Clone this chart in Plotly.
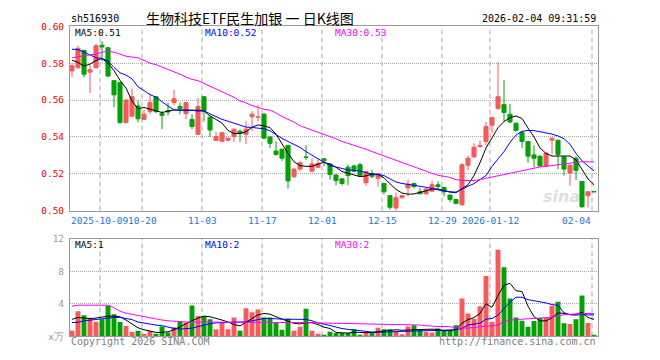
import plotly.graph_objects as go
import pandas as pd

# ---------------- data ----------------
holidays = ['2025-10-01', '2025-10-02', '2025-10-03', '2025-10-06', '2025-10-07',
            '2025-10-08', '2026-01-01', '2026-01-02']
dates = [d.strftime('%Y-%m-%d') for d in pd.bdate_range('2025-09-24', '2026-02-04')
         if d.strftime('%Y-%m-%d') not in holidays]

opens = [0.5758, 0.5775, 0.5870, 0.5751, 0.5775, 0.5898, 0.5884, 0.5705, 0.5695, 0.5477,
         0.5512, 0.5568, 0.5495, 0.5537, 0.5618, 0.5526, 0.5542, 0.5586, 0.5565, 0.5526,
         0.5495, 0.5414, 0.5618, 0.5507, 0.5380, 0.5376, 0.5382, 0.5402, 0.5431, 0.5414,
         0.5509, 0.5506, 0.5523, 0.5400, 0.5323, 0.5333, 0.5354, 0.5183, 0.5225, 0.5291,
         0.5214, 0.5235, 0.5281, 0.5253, 0.5193, 0.5172, 0.5235, 0.5242, 0.5249, 0.5151,
         0.5200, 0.5176, 0.5147, 0.5081, 0.5014, 0.5070, 0.5123, 0.5147, 0.5102, 0.5091,
         0.5105, 0.5140, 0.5126, 0.5084, 0.5060, 0.5032, 0.5246, 0.5291, 0.5347, 0.5375,
         0.5463, 0.5554, 0.5575, 0.5523, 0.5474, 0.5425, 0.5375, 0.5302, 0.5295, 0.5242,
         0.5382, 0.5382, 0.5291, 0.5204, 0.5284, 0.5158, 0.5081, 0.5103]
highs = [0.5800, 0.5895, 0.5872, 0.5793, 0.5905, 0.5920, 0.5888, 0.5709, 0.5700, 0.5607,
         0.5663, 0.5596, 0.5547, 0.5632, 0.5621, 0.5540, 0.5586, 0.5656, 0.5586, 0.5590,
         0.5523, 0.5611, 0.5620, 0.5510, 0.5428, 0.5423, 0.5395, 0.5444, 0.5440, 0.5484,
         0.5540, 0.5572, 0.5530, 0.5400, 0.5376, 0.5335, 0.5356, 0.5230, 0.5267, 0.5355,
         0.5284, 0.5277, 0.5281, 0.5256, 0.5200, 0.5175, 0.5249, 0.5249, 0.5260, 0.5214,
         0.5221, 0.5203, 0.5150, 0.5084, 0.5098, 0.5084, 0.5168, 0.5151, 0.5123, 0.5123,
         0.5161, 0.5158, 0.5128, 0.5086, 0.5063, 0.5256, 0.5298, 0.5365, 0.5382, 0.5481,
         0.5510, 0.5807, 0.5709, 0.5579, 0.5477, 0.5428, 0.5378, 0.5354, 0.5300, 0.5316,
         0.5396, 0.5386, 0.5295, 0.5249, 0.5295, 0.5160, 0.5105, 0.5103]
lows = [0.5726, 0.5770, 0.5723, 0.5639, 0.5772, 0.5810, 0.5726, 0.5561, 0.5474, 0.5474,
        0.5509, 0.5480, 0.5493, 0.5523, 0.5530, 0.5442, 0.5516, 0.5572, 0.5523, 0.5495,
        0.5442, 0.5411, 0.5484, 0.5400, 0.5378, 0.5372, 0.5375, 0.5372, 0.5372, 0.5361,
        0.5432, 0.5484, 0.5390, 0.5340, 0.5298, 0.5270, 0.5119, 0.5176, 0.5215, 0.5274,
        0.5207, 0.5233, 0.5242, 0.5168, 0.5137, 0.5137, 0.5137, 0.5207, 0.5186, 0.5134,
        0.5175, 0.5130, 0.5088, 0.5004, 0.4995, 0.5065, 0.5077, 0.5120, 0.5088, 0.5088,
        0.5102, 0.5112, 0.5077, 0.5046, 0.5035, 0.5025, 0.5218, 0.5288, 0.5344, 0.5354,
        0.5420, 0.5547, 0.5481, 0.5475, 0.5430, 0.5340, 0.5260, 0.5235, 0.5235, 0.5235,
        0.5305, 0.5225, 0.5190, 0.5134, 0.5165, 0.5014, 0.5016, 0.5101]
closes = [0.5786, 0.5881, 0.5740, 0.5765, 0.5895, 0.5888, 0.5730, 0.5628, 0.5477, 0.5600,
          0.5618, 0.5498, 0.5523, 0.5586, 0.5537, 0.5516, 0.5535, 0.5607, 0.5554, 0.5586,
          0.5456, 0.5565, 0.5542, 0.5437, 0.5402, 0.5423, 0.5393, 0.5442, 0.5420, 0.5442,
          0.5523, 0.5509, 0.5393, 0.5365, 0.5305, 0.5284, 0.5161, 0.5225, 0.5260, 0.5288,
          0.5253, 0.5256, 0.5270, 0.5196, 0.5162, 0.5147, 0.5190, 0.5214, 0.5190, 0.5211,
          0.5186, 0.5200, 0.5102, 0.5018, 0.5070, 0.5081, 0.5144, 0.5130, 0.5091, 0.5116,
          0.5140, 0.5130, 0.5102, 0.5060, 0.5039, 0.5249, 0.5284, 0.5344, 0.5354, 0.5456,
          0.5505, 0.5618, 0.5533, 0.5481, 0.5435, 0.5375, 0.5295, 0.5284, 0.5242, 0.5312,
          0.5393, 0.5305, 0.5225, 0.5246, 0.5218, 0.5021, 0.5102, 0.5101]

ma5 = [0.5816, 0.5804, 0.5785, 0.5795, 0.5815, 0.5825, 0.5800, 0.5760, 0.5707, 0.5665,
       0.5595, 0.5552, 0.5560, 0.5552, 0.5540, 0.5532, 0.5540, 0.5546, 0.5545, 0.5543,
       0.5544, 0.5545, 0.5540, 0.5514, 0.5496, 0.5475, 0.5435, 0.5418, 0.5418, 0.5428,
       0.5452, 0.5465, 0.5460, 0.5450, 0.5415, 0.5360, 0.5310, 0.5265, 0.5244, 0.5240,
       0.5240, 0.5252, 0.5262, 0.5252, 0.5235, 0.5212, 0.5203, 0.5190, 0.5184, 0.5188,
       0.5198, 0.5196, 0.5178, 0.5145, 0.5115, 0.5095, 0.5089, 0.5090, 0.5097, 0.5107,
       0.5117, 0.5117, 0.5108, 0.5100, 0.5097, 0.5120, 0.5140, 0.5190, 0.5260, 0.5340,
       0.5395, 0.5450, 0.5483, 0.5505, 0.5513, 0.5500, 0.5448, 0.5400, 0.5340, 0.5310,
       0.5296, 0.5296, 0.5296, 0.5296, 0.5275, 0.5220, 0.5172, 0.5140]
ma10 = [0.5876, 0.5874, 0.5860, 0.5845, 0.5830, 0.5826, 0.5812, 0.5777, 0.5748, 0.5735,
        0.5715, 0.5672, 0.5650, 0.5630, 0.5615, 0.5590, 0.5567, 0.5546, 0.5546, 0.5546,
        0.5545, 0.5540, 0.5542, 0.5525, 0.5510, 0.5495, 0.5485, 0.5475, 0.5465, 0.5453,
        0.5451, 0.5447, 0.5444, 0.5433, 0.5410, 0.5392, 0.5375, 0.5360, 0.5343, 0.5320,
        0.5300, 0.5280, 0.5262, 0.5245, 0.5237, 0.5228, 0.5220, 0.5218, 0.5215, 0.5206,
        0.5198, 0.5196, 0.5190, 0.5172, 0.5155, 0.5147, 0.5140, 0.5137, 0.5132, 0.5128,
        0.5120, 0.5112, 0.5106, 0.5102, 0.5100, 0.5117, 0.5132, 0.5146, 0.5170, 0.5190,
        0.5240, 0.5280, 0.5320, 0.5370, 0.5410, 0.5430, 0.5435, 0.5434, 0.5428, 0.5422,
        0.5415, 0.5405, 0.5390, 0.5360, 0.5310, 0.5270, 0.5240, 0.5215]
ma30 = [0.5830, 0.5835, 0.5840, 0.5845, 0.5850, 0.5860, 0.5865, 0.5860, 0.5850, 0.5838,
        0.5833, 0.5830, 0.5815, 0.5800, 0.5792, 0.5780, 0.5765, 0.5755, 0.5740, 0.5725,
        0.5712, 0.5705, 0.5690, 0.5675, 0.5660, 0.5645, 0.5630, 0.5615, 0.5595, 0.5585,
        0.5570, 0.5560, 0.5550, 0.5545, 0.5530, 0.5510, 0.5495, 0.5480, 0.5460, 0.5448,
        0.5438, 0.5428, 0.5415, 0.5402, 0.5390, 0.5375, 0.5365, 0.5355, 0.5345, 0.5333,
        0.5320, 0.5308, 0.5295, 0.5282, 0.5270, 0.5260, 0.5248, 0.5238, 0.5225, 0.5212,
        0.5202, 0.5192, 0.5185, 0.5180, 0.5168, 0.5163, 0.5163, 0.5163, 0.5168, 0.5175,
        0.5182, 0.5190, 0.5198, 0.5205, 0.5210, 0.5215, 0.5222, 0.5230, 0.5237, 0.5240,
        0.5245, 0.5250, 0.5255, 0.5260, 0.5262, 0.5265, 0.5265, 0.5264]

volumes = [0.68, 3.08, 2.60, 2.28, 1.80, 2.08, 3.80, 2.72, 1.76, 1.28,
           0.56, 0.68, 0.32, 0.64, 0.32, 1.20, 0.48, 1.12, 1.88, 1.68,
           3.80, 2.48, 2.48, 2.08, 0.88, 1.76, 0.88, 2.32, 0.68, 3.44,
           2.96, 3.28, 2.32, 2.32, 1.68, 0.80, 2.16, 0.68, 1.16, 3.40,
           0.68, 0.32, 0.16, 0.56, 0.40, 0.40, 0.40, 0.88, 0.16, 0.40,
           0.56, 1.04, 0.88, 0.88, 0.64, 0.24, 1.20, 1.36, 0.80, 0.56,
           0.48, 0.96, 0.72, 0.72, 1.36, 4.64, 2.80, 2.16, 3.68, 7.40,
           1.76, 10.64, 8.48, 4.64, 2.32, 1.92, 1.16, 1.88, 2.24, 2.24,
           3.76, 4.24, 1.60, 1.52, 2.08, 5.00, 1.64, 0.16]
vol_ma5 = [2.08, 2.32, 2.24, 2.16, 2.24, 2.40, 2.48, 2.48, 2.40, 2.00,
           1.52, 1.04, 0.80, 0.64, 0.48, 0.48, 0.56, 0.80, 1.20, 1.52,
           1.92, 2.24, 2.48, 2.40, 2.24, 2.00, 1.76, 1.44, 1.28, 1.76,
           2.24, 2.64, 2.80, 2.72, 2.40, 2.08, 1.84, 1.60, 1.52, 1.68,
           1.68, 1.44, 1.12, 0.96, 0.48, 0.42, 0.40, 0.50, 0.46, 0.46,
           0.48, 0.58, 0.66, 0.75, 0.80, 0.74, 0.77, 0.86, 0.85, 0.83,
           0.88, 0.83, 0.70, 0.69, 0.85, 1.60, 2.05, 2.30, 2.80, 4.00,
           3.56, 5.00, 6.30, 6.50, 5.60, 5.50, 3.70, 2.40, 1.90, 1.90,
           2.26, 2.87, 2.82, 2.67, 2.70, 2.95, 2.30, 2.08]
vol_ma10 = [1.68, 1.72, 1.90, 2.00, 2.10, 2.20, 2.30, 2.32, 2.32, 2.20,
            2.05, 1.75, 1.60, 1.44, 1.38, 1.30, 1.10, 0.96, 0.88, 0.92,
            1.00, 1.20, 1.40, 1.55, 1.65, 1.70, 1.72, 1.76, 1.76, 1.76,
            1.95, 2.05, 2.20, 2.22, 2.15, 2.10, 2.08, 2.08, 2.08, 2.08,
            1.90, 1.65, 1.50, 1.30, 1.10, 0.95, 0.85, 0.80, 0.70, 0.60,
            0.50, 0.50, 0.50, 0.52, 0.56, 0.60, 0.62, 0.66, 0.68, 0.68,
            0.68, 0.70, 0.72, 0.72, 0.80, 0.96, 1.40, 1.50, 1.60, 2.10,
            2.20, 2.60, 3.40, 4.20, 4.80, 4.80, 4.50, 4.36, 4.30, 4.10,
            3.90, 3.80, 2.90, 2.64, 2.60, 2.68, 2.62, 2.64]
vol_ma30 = [3.70, 3.82, 3.82, 3.82, 3.82, 3.82, 3.82, 3.50, 3.08, 2.84,
            2.70, 2.50, 2.40, 2.30, 2.10, 2.00, 1.90, 1.84, 1.80, 1.76,
            1.76, 1.76, 1.76, 1.76, 1.76, 1.76, 1.76, 1.76, 1.76, 1.76,
            1.76, 1.76, 1.76, 1.76, 1.76, 1.76, 1.76, 1.72, 1.70, 1.68,
            1.66, 1.64, 1.62, 1.60, 1.55, 1.55, 1.55, 1.55, 1.52, 1.50,
            1.48, 1.44, 1.44, 1.44, 1.44, 1.44, 1.44, 1.42, 1.38, 1.30,
            1.22, 1.20, 1.20, 1.18, 1.04, 1.00, 1.00, 1.10, 1.15, 1.20,
            1.30, 1.40, 1.80, 2.00, 2.05, 2.10, 2.15, 2.20, 2.25, 2.30,
            2.35, 2.50, 2.65, 2.70, 2.75, 2.78, 2.80, 2.80]

x_label_dates = ['2025-10-09', '2025-10-20', '2025-11-03', '2025-11-17', '2025-12-01',
                 '2025-12-15', '2025-12-29', '2026-01-12', '2026-02-04']
x_label_text = ['2025-10-09', '10-20', '11-03', '11-17', '12-01',
                '12-15', '12-29', '2026-01-12', '02-04']
price_ticks = [0.50, 0.52, 0.54, 0.56, 0.58, 0.60]
vol_ticks = [0, 4, 8, 12]
vol_tick_text = ['x万', '4', '8', '12']
vol_ma_labels = ['MA5:1', 'MA10:2', 'MA30:2']

# ---------------- styling ----------------
W, H = 660, 360
RED, GREEN = '#f55b5b', '#06a006'
GRID = '#aaaaaa'
BORDER = '#999999'
MONO = 'DejaVu Sans Mono'
idx = list(range(len(dates)))
up = [c >= o for o, c in zip(opens, closes)]
colors = [RED if u else GREEN for u in up]


def px(x):
    return x / W


def py(y):
    return 1 - y / H


fig = go.Figure()

# candle bodies
fig.add_trace(go.Bar(
    x=idx, base=[min(o, c) for o, c in zip(opens, closes)],
    y=[abs(c - o) for o, c in zip(opens, closes)],
    width=0.68, marker=dict(color=colors, line=dict(color=colors, width=1)),
    xaxis='x', yaxis='y', hoverinfo='skip'))

# wicks
for want, col in ((True, RED), (False, GREEN)):
    wx, wy = [], []
    for i in idx:
        if up[i] == want and highs[i] > lows[i]:
            wx += [i, i, None]
            wy += [lows[i], highs[i], None]
    fig.add_trace(go.Scatter(x=wx, y=wy, mode='lines', line=dict(color=col, width=1),
                             xaxis='x', yaxis='y', hoverinfo='skip'))

# price moving averages
for s, col in ((ma5, '#000000'), (ma10, '#0000ff'), (ma30, '#ff00ff')):
    fig.add_trace(go.Scatter(x=idx, y=s, mode='lines', line=dict(color=col, width=1),
                             xaxis='x', yaxis='y', hoverinfo='skip'))

# volume bars
fig.add_trace(go.Bar(x=idx, y=volumes, width=0.82, marker=dict(color=colors, line=dict(width=0)),
                     xaxis='x2', yaxis='y2', hoverinfo='skip'))
for s, col in ((vol_ma5, '#000000'), (vol_ma10, '#0000ff'), (vol_ma30, '#ff00ff')):
    fig.add_trace(go.Scatter(x=idx, y=s, mode='lines', line=dict(color=col, width=1),
                             xaxis='x2', yaxis='y2', hoverinfo='skip'))

xr = [-1 / 3, len(dates) - 1 + 2 / 3]
xdom = [px(70), px(598)]

shapes = []
annotations = []
for k, (d, t) in enumerate(zip(x_label_dates, x_label_text)):
    gx = dates.index(d) - 1 / 3
    for yref in ('y domain', 'y2 domain'):
        shapes.append(dict(type='line', xref='x', yref=yref, x0=gx, x1=gx, y0=0, y1=1,
                           line=dict(color=GRID, width=1, dash='5px,3px'), layer='below'))
    if k == 0:
        ax, anchor = xr[0], 'left'
    elif k == len(x_label_dates) - 1:
        ax, anchor = gx, 'right'
    else:
        ax, anchor = gx, 'center'
    annotations.append(dict(xref='x', yref='paper', x=ax, y=py(221), text=t,
                            showarrow=False, xanchor=anchor, yanchor='middle', borderpad=0,
                            font=dict(family=MONO, size=9.5, color='#1a78d0')))


def txt(x, y, s, col, anchor='left', size=9.5, fam=MONO):
    return dict(xref='paper', yref='paper', x=px(x), y=py(y), text=s, showarrow=False,
                xanchor=anchor, yanchor='middle', borderpad=0,
                font=dict(family=fam, size=size, color=col))


annotations += [
    txt(70, 12.5, 'sh516930', '#000000', size=10),
    txt(250, 12, '生物科技ETF民生加银 一 日K线图', '#000000', 'center', 14, 'Noto Sans CJK SC'),
    txt(597, 12.5, '2026-02-04 09:31:59', '#000000', 'right', size=10),
    txt(74, 27, 'MA5:%.2f' % ma5[-1], '#000000'),
    txt(204, 27, 'MA10:%.2f' % ma10[-1], '#0000ff'),
    txt(334, 27, 'MA30:%.2f' % ma30[-1], '#ff00ff'),
    txt(74, 246.5, vol_ma_labels[0], '#000000'),
    txt(204, 246.5, vol_ma_labels[1], '#0000ff'),
    txt(334, 246.5, vol_ma_labels[2], '#ff00ff'),
    txt(70, 346, 'Copyright 2026 SINA.COM', '#808080', size=10),
    txt(597, 346, 'http://finance.sina.com.cn', '#808080', 'right', size=10),
    dict(xref='paper', yref='paper', x=px(581), y=py(196), text='<b><i>sina</i></b>',
         showarrow=False, borderpad=0,
         font=dict(family='DejaVu Sans', size=16, color='rgba(170,170,170,0.4)')),
]

fig.update_layout(
    width=W, height=H, margin=dict(l=0, r=0, t=0, b=0),
    paper_bgcolor='white', plot_bgcolor='white', showlegend=False, barmode='overlay',
    xaxis=dict(domain=xdom, range=xr, anchor='y', showgrid=False, showticklabels=False,
               zeroline=False, showline=True, mirror=True, linecolor=BORDER, linewidth=1, ticks=''),
    xaxis2=dict(domain=xdom, range=xr, anchor='y2', matches='x', showgrid=False,
                showticklabels=False, zeroline=False, showline=True, mirror=True,
                linecolor=BORDER, linewidth=1, ticks=''),
    yaxis=dict(domain=[py(211), py(21)], range=[0.50, 0.60], anchor='x',
               tickvals=price_ticks, ticktext=['%.2f' % v for v in price_ticks],
               tickfont=dict(family=MONO, size=9.5, color='#ee0000'), ticks='',
               showgrid=True, gridcolor=GRID, griddash='1px,1px', gridwidth=1,
               zeroline=False, showline=True, mirror=True, linecolor=BORDER, linewidth=1,
               ticklabelstandoff=3),
    yaxis2=dict(domain=[py(340.7), py(240)], range=[0, 12], anchor='x2',
                tickvals=vol_ticks, ticktext=vol_tick_text,
                tickfont=dict(family=MONO, size=9.5, color='#999999'), ticks='',
                showgrid=True, gridcolor=GRID, griddash='1px,1px', gridwidth=1,
                zeroline=False, showline=True, mirror=True, linecolor=BORDER, linewidth=1,
                ticklabelstandoff=3),
    shapes=shapes, annotations=annotations,
)

fig.write_html('out.html')
